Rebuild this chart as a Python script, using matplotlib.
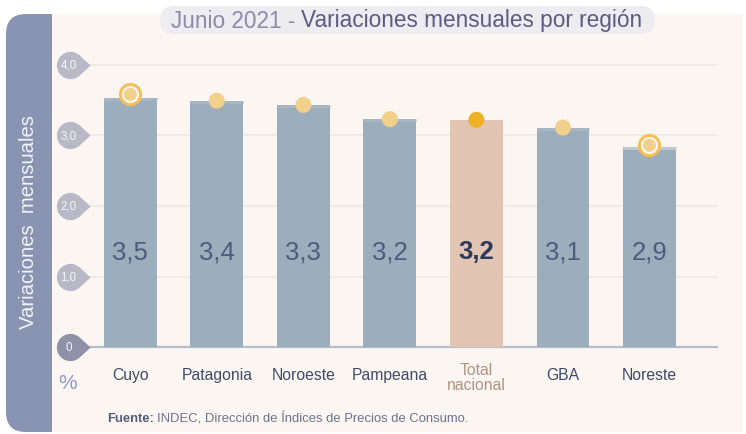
import numpy as np
import matplotlib
matplotlib.use("Agg")
import matplotlib.pyplot as plt
from matplotlib.patches import FancyBboxPatch, Rectangle
from matplotlib.path import Path
from matplotlib.transforms import IdentityTransform

plt.rcParams['font.family'] = ['Liberation Sans', 'DejaVu Sans']

# ---- data ----
categories = ["Cuyo", "Patagonia", "Noroeste", "Pampeana", "Total\nnacional", "GBA", "Noreste"]
bar_values = [3.53, 3.49, 3.43, 3.23, 3.22, 3.11, 2.84]
dot_values = [3.58, 3.49, 3.43, 3.23, 3.22, 3.11, 2.86]
value_labels = ["3,5", "3,4", "3,3", "3,2", "3,2", "3,1", "2,9"]
tick_values = [0, 1, 2, 3, 4]
tick_labels = ["0", "1,0", "2,0", "3,0", "4,0"]
total_index = 4
ringed = [0, 6]

W, H = 746, 435
fig = plt.figure(figsize=(W / 100, H / 100), dpi=100)
fig.patch.set_facecolor("white")
ID = IdentityTransform()

# sidebar and panel
fig.patches.append(FancyBboxPatch((6, 2), 80, 418, boxstyle="round,pad=0,rounding_size=20",
                                  transform=ID, facecolor="#8994B2", edgecolor="none", zorder=0))
fig.patches.append(Rectangle((52, 2), 691, 418, transform=ID, facecolor="#FBF6F1",
                             edgecolor="none", zorder=1))
# title pill
fig.patches.append(FancyBboxPatch((160, 400), 495, 28, boxstyle="round,pad=0,rounding_size=14",
                                  transform=ID, facecolor="#ECECF1", edgecolor="none", zorder=2))

def fx(px):
    return px / W
def fy(py):
    return 1 - py / H

ax_left, ax_right, ax_top, ax_bot = 52, 743, 40, 360
ax = fig.add_axes([fx(ax_left), fy(ax_bot), (ax_right - ax_left) / W, (ax_bot - ax_top) / H])
ax.set_facecolor("none")
ax.set_zorder(3)
c0, sp = 130.3, 86.53
ax.set_xlim((ax_left - c0) / sp, (ax_right - c0) / sp)
y0, unit = 348.3, 70.65
ax.set_ylim((y0 - ax_bot) / unit, (y0 - ax_top) / unit)
for s in ax.spines.values():
    s.set_visible(False)
ax.set_xticks([])
ax.set_yticks([])

x = np.arange(len(categories))
grid_x0 = (83 - c0) / sp
grid_x1 = (718 - c0) / sp
ax.hlines(tick_values[1:], grid_x0, grid_x1, color="#EEE9E4", lw=1.3, zorder=1)
ax.hlines([0], grid_x0, grid_x1, color="#B8BDCB", lw=1.6, zorder=1)

bar_colors = ["#9CADBB"] * len(categories)
bar_colors[total_index] = "#E2C4B3"
ax.bar(x, bar_values, width=0.61, color=bar_colors, zorder=2)
strip_colors = ["#A9B7C3"] * len(categories)
strip_colors[6] = "#C3CBD2"
for i in range(len(categories)):
    if i == total_index:
        continue
    ax.hlines(bar_values[i] - 0.015, x[i] - 0.305, x[i] + 0.305, color=strip_colors[i], lw=2.0, zorder=2.5)

# rings
for i in ringed:
    ax.scatter([x[i]], [dot_values[i]], s=14.5 ** 2, facecolor="#FBF6F1", edgecolor="#F3C05A",
               linewidth=2.2, zorder=4)
dot_colors = ["#F0D08A"] * len(categories)
dot_colors[total_index] = "#EFB125"
sizes = [(9.3 if i in ringed else 11.5) ** 2 for i in range(len(categories))]
ax.scatter(x, dot_values, s=sizes, color=dot_colors, edgecolor="none", zorder=5)

# value labels
for i, lab in enumerate(value_labels):
    if i == total_index:
        ax.text(x[i], 1.36, lab, ha="center", va="center", fontsize=18.5, color="#2B3A5A",
                fontweight="bold", zorder=6)
    else:
        ax.text(x[i], 1.36, lab, ha="center", va="center", fontsize=18.5, color="#4C5B80", zorder=6)

# category labels
for i, lab in enumerate(categories):
    if i == total_index:
        ax.text(x[i], (y0 - 378) / unit, lab, ha="center", va="center", fontsize=11.3,
                color="#B09282", linespacing=1.05)
    else:
        ax.text(x[i], (y0 - 376) / unit, lab, ha="center", va="center", fontsize=11.3,
                color="#3F4A68")

# drop-shaped tick markers
d = 1.48
th = np.degrees(np.arccos(1 / d))
arc = Path.arc(th, 360 - th)
verts = np.vstack([arc.vertices, [[d, 0], arc.vertices[0]]])
codes = list(arc.codes) + [Path.LINETO, Path.CLOSEPOLY]
drop = Path(verts, codes)
mx = (69.5 - c0) / sp
mx_text = (68.5 - c0) / sp
for v, lab in zip(tick_values, tick_labels):
    col = "#8F91A9" if v == 0 else "#B9B8C6"
    ax.plot([mx], [v], marker=drop, markersize=29, color=col, markeredgewidth=0, zorder=4,
            clip_on=False)
    ax.text(mx_text, v, lab, ha="center", va="center", fontsize=8.3, color="#F6F6FA", zorder=5)

# % sign
fig.text(fx(68), fy(384), "%", ha="center", va="center", fontsize=15, color="#8E9AC6", zorder=5)

# sidebar label
fig.text(fx(29), fy(222), "Variaciones  mensuales", rotation=90, ha="center", va="center",
         fontsize=14.6, color="#F1F3F8", zorder=5)

# title
fig.canvas.draw()
r = fig.canvas.get_renderer()
t1 = fig.text(0, fy(21), "Junio 2021 - ", ha="left", va="center", fontsize=16.3, color="#8E8AA8", zorder=5)
t2 = fig.text(0, fy(21), "Variaciones mensuales por región", ha="left", va="center", fontsize=16.3,
              color="#5F5A82", zorder=5)
w1 = t1.get_window_extent(r).width
w2 = t2.get_window_extent(r).width
start = 406.5 - (w1 + w2) / 2
t1.set_x(fx(start))
t2.set_x(fx(start + w1))

# source
f1 = fig.text(fx(107), fy(419), "Fuente:", ha="left", va="center", fontsize=9.4, color="#535C7A",
              fontweight="bold", zorder=5)
wf = f1.get_window_extent(r).width
fig.text(fx(107 + wf + 3), fy(419), "INDEC, Dirección de Índices de Precios de Consumo.", ha="left",
         va="center", fontsize=9.4, color="#6C7290", zorder=5)

fig.savefig("out.png", dpi=100, facecolor=fig.get_facecolor())
